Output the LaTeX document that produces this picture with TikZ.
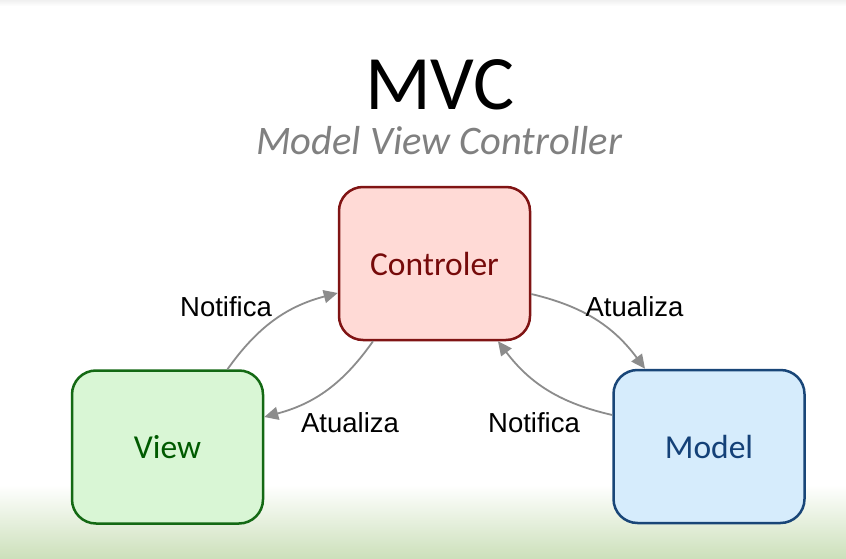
\documentclass[tikz,border=0pt]{standalone}
\usepackage{fontspec}
\setmainfont{Carlito}
\newfontfamily\labelfont{Liberation Sans}
\usetikzlibrary{arrows.meta}
\definecolor{bggreen}{RGB}{204,224,186}
\definecolor{ctrlfill}{RGB}{255,218,214}
\definecolor{ctrldraw}{RGB}{128,20,20}
\definecolor{ctrltext}{RGB}{118,10,10}
\definecolor{viewfill}{RGB}{217,246,213}
\definecolor{viewdraw}{RGB}{20,105,20}
\definecolor{viewtext}{RGB}{0,90,0}
\definecolor{modelfill}{RGB}{214,236,252}
\definecolor{modeldraw}{RGB}{25,70,120}
\definecolor{modeltext}{RGB}{20,65,120}
\definecolor{arrowgray}{RGB}{140,140,140}
\tikzset{
  box/.style={rounded corners=24pt, line width=2.5pt, minimum width=191pt, minimum height=153pt, inner sep=0pt, font=\fontsize{33.5}{36}\selectfont},
  flow/.style={draw=arrowgray, line width=1.8pt, -{Triangle[length=14pt,width=13pt]}, bend left=20},
  lbl/.style={font=\labelfont\fontsize{27.5}{30}\selectfont, anchor=base, inner sep=0pt},
}
\begin{document}
\begin{tikzpicture}[x=1pt,y=-1pt]
\useasboundingbox (0,0) rectangle (846,559);
\fill[white] (0,0) rectangle (846,559);
\shade[top color=white, bottom color=bggreen] (0,485) rectangle (846,559);
\shade[top color=black!6, bottom color=white] (0,0) rectangle (846,6);
\node[anchor=base, inner sep=0pt, font=\fontsize{77}{80}\selectfont] (title) at (440,110) {MVC};
\node[anchor=base, inner sep=0pt, text=black!50, font=\itshape\fontsize{40.5}{44}\selectfont] (sub) at (439,155) {Model View Controller};
\node[box, fill=ctrlfill, draw=ctrldraw, text=ctrltext] (ctrl) at (434.5,263.5) {Controler};
\node[box, fill=viewfill, draw=viewdraw, text=viewtext] (view) at (167.5,447) {View};
\node[box, fill=modelfill, draw=modeldraw, text=modeltext] (model) at (709,446.5) {Model};
\draw[flow] ([xshift=60pt]view.north) to ([yshift=-29.5pt]ctrl.west);
\draw[flow] ([xshift=-61.5pt]ctrl.south) to ([yshift=30pt]view.east);
\draw[flow] ([yshift=-30.5pt]ctrl.east) to ([xshift=-64pt]model.north);
\draw[flow] ([yshift=31.5pt]model.west) to ([xshift=63.5pt]ctrl.south);
\node[lbl] (n1) at (226,316) {Notifica};
\node[lbl] (a1) at (634.5,316) {Atualiza};
\node[lbl] (a2) at (350,432) {Atualiza};
\node[lbl] (n2) at (534,432) {Notifica};
\end{tikzpicture}
\end{document}
